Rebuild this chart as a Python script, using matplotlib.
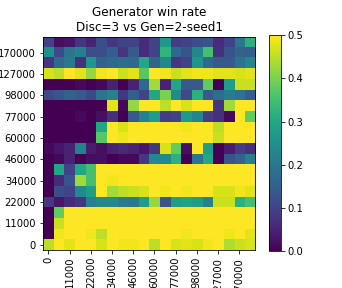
import numpy as np
import matplotlib
matplotlib.use("Agg")
import matplotlib.pyplot as plt

# checkpoints (every other one is labelled)
step_labels = ['0', '11000', '22000', '34000', '46000', '60000', '77000', '98000', '127000', '170000']

# win rate, row 0 = bottom of the picture
win_rate = [
    [0.45, 0.50, 0.48, 0.50, 0.50, 0.47, 0.50, 0.49, 0.49, 0.50, 0.45, 0.50, 0.47, 0.48, 0.47, 0.49, 0.50, 0.44, 0.46, 0.47],
    [0.00, 0.49, 0.50, 0.50, 0.49, 0.45, 0.50, 0.50, 0.50, 0.50, 0.50, 0.50, 0.50, 0.49, 0.50, 0.50, 0.50, 0.49, 0.50, 0.48],
    [0.00, 0.46, 0.50, 0.50, 0.50, 0.50, 0.50, 0.50, 0.50, 0.50, 0.50, 0.50, 0.50, 0.50, 0.50, 0.50, 0.50, 0.50, 0.50, 0.50],
    [0.00, 0.38, 0.50, 0.50, 0.50, 0.50, 0.50, 0.50, 0.50, 0.50, 0.50, 0.50, 0.50, 0.50, 0.50, 0.50, 0.50, 0.50, 0.50, 0.50],
    [0.08, 0.03, 0.06, 0.08, 0.22, 0.24, 0.24, 0.21, 0.20, 0.28, 0.42, 0.13, 0.28, 0.29, 0.28, 0.22, 0.46, 0.46, 0.32, 0.35],
    [0.00, 0.12, 0.10, 0.24, 0.28, 0.50, 0.43, 0.45, 0.46, 0.47, 0.50, 0.49, 0.50, 0.49, 0.50, 0.50, 0.47, 0.47, 0.49, 0.48],
    [0.00, 0.06, 0.13, 0.43, 0.35, 0.50, 0.49, 0.50, 0.50, 0.50, 0.50, 0.50, 0.50, 0.50, 0.50, 0.50, 0.50, 0.50, 0.50, 0.50],
    [0.00, 0.30, 0.10, 0.30, 0.35, 0.50, 0.50, 0.50, 0.50, 0.50, 0.50, 0.50, 0.50, 0.50, 0.50, 0.50, 0.50, 0.50, 0.50, 0.50],
    [0.00, 0.01, 0.05, 0.00, 0.02, 0.02, 0.00, 0.01, 0.01, 0.08, 0.24, 0.24, 0.32, 0.00, 0.19, 0.30, 0.00, 0.13, 0.16, 0.22],
    [0.01, 0.03, 0.05, 0.22, 0.04, 0.02, 0.05, 0.06, 0.05, 0.03, 0.08, 0.47, 0.38, 0.02, 0.50, 0.28, 0.00, 0.04, 0.09, 0.07],
    [0.00, 0.00, 0.00, 0.00, 0.00, 0.37, 0.50, 0.49, 0.50, 0.50, 0.50, 0.50, 0.50, 0.50, 0.50, 0.50, 0.46, 0.50, 0.50, 0.50],
    [0.00, 0.00, 0.00, 0.00, 0.00, 0.30, 0.50, 0.47, 0.50, 0.50, 0.50, 0.50, 0.50, 0.49, 0.50, 0.50, 0.45, 0.50, 0.50, 0.50],
    [0.00, 0.00, 0.00, 0.01, 0.00, 0.02, 0.07, 0.00, 0.14, 0.22, 0.28, 0.09, 0.10, 0.27, 0.23, 0.09, 0.07, 0.01, 0.50, 0.38],
    [0.00, 0.00, 0.00, 0.00, 0.00, 0.00, 0.48, 0.01, 0.42, 0.50, 0.50, 0.45, 0.50, 0.47, 0.50, 0.50, 0.08, 0.43, 0.50, 0.50],
    [0.11, 0.13, 0.16, 0.14, 0.11, 0.19, 0.22, 0.08, 0.15, 0.10, 0.30, 0.40, 0.24, 0.11, 0.32, 0.14, 0.18, 0.21, 0.19, 0.15],
    [0.00, 0.00, 0.00, 0.01, 0.00, 0.01, 0.05, 0.00, 0.05, 0.17, 0.43, 0.05, 0.30, 0.14, 0.14, 0.38, 0.00, 0.28, 0.46, 0.46],
    [0.47, 0.45, 0.50, 0.48, 0.42, 0.49, 0.50, 0.46, 0.48, 0.37, 0.50, 0.49, 0.46, 0.48, 0.49, 0.49, 0.48, 0.48, 0.47, 0.48],
    [0.08, 0.17, 0.20, 0.07, 0.26, 0.16, 0.17, 0.18, 0.17, 0.30, 0.16, 0.24, 0.08, 0.10, 0.26, 0.17, 0.14, 0.14, 0.19, 0.23],
    [0.25, 0.11, 0.19, 0.22, 0.12, 0.12, 0.15, 0.08, 0.14, 0.06, 0.10, 0.33, 0.17, 0.13, 0.23, 0.35, 0.07, 0.13, 0.16, 0.15],
    [0.10, 0.02, 0.03, 0.08, 0.05, 0.12, 0.08, 0.10, 0.10, 0.06, 0.10, 0.27, 0.09, 0.10, 0.12, 0.13, 0.06, 0.10, 0.20, 0.32],
]

# 342x288 px at 72 dpi, default font sizes
fig = plt.figure(figsize=(342 / 72, 288 / 72), dpi=72)
ax = fig.add_axes([0.126, 0.132, 0.620, 0.740])
im = ax.imshow(np.array(win_rate), cmap='viridis', vmin=0, vmax=0.5,
               origin='lower', aspect='auto', interpolation='nearest')

ticks = np.arange(0, 20, 2)
ax.set_xticks(ticks)
ax.set_xticklabels(step_labels, rotation=90)
ax.set_yticks(ticks)
ax.set_yticklabels(step_labels)
ax.set_title('Generator win rate\nDisc=3 vs Gen=2-seed1')

cax = fig.add_axes([0.787, 0.128, 0.034, 0.75])
cb = fig.colorbar(im, cax=cax, ticks=[0.0, 0.1, 0.2, 0.3, 0.4, 0.5])

fig.savefig('out.png', dpi=72)
